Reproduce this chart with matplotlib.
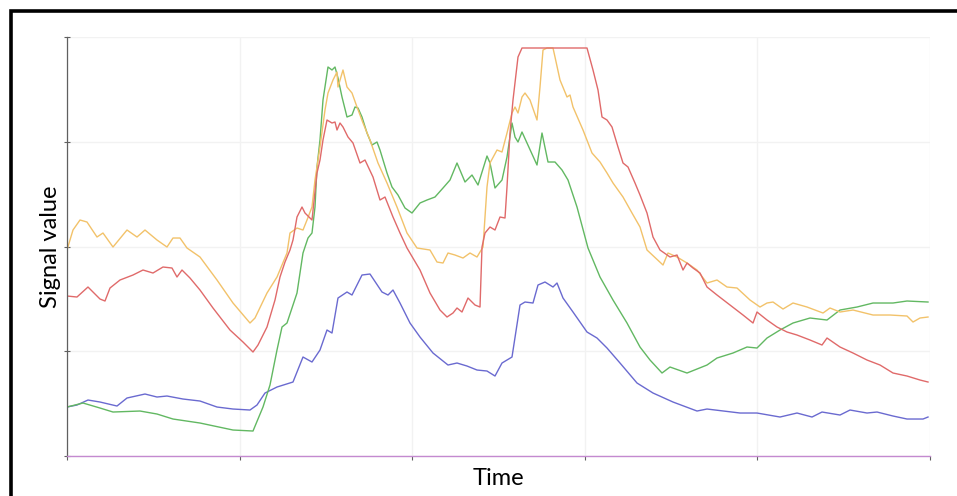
import numpy as np
import matplotlib

matplotlib.use("Agg")
import matplotlib.pyplot as plt
from matplotlib.patches import Rectangle

plt.rcParams["font.family"] = ["Lato", "DejaVu Sans"]

# arbitrary units (time 0..863, signal 0..419)
blue_t = [0, 5, 10, 21, 33, 50, 60, 78, 90, 100, 116, 133, 150, 166, 183, 190, 198, 210,
          226, 236, 245, 253, 260, 265, 271, 280, 285, 295, 303, 315, 321, 326, 333, 343,
          353, 366, 381, 390, 400, 410, 420, 428, 435, 445, 453, 458, 466, 471, 478, 486,
          490, 496, 506, 520, 530, 540, 553, 570, 586, 606, 630, 640, 673, 690, 713, 730,
          745, 755, 773, 783, 800, 810, 826, 840, 856, 861]
blue_v = [49, 50, 51, 56, 54, 50, 58, 62, 59, 60, 57, 55, 49, 47, 46, 51, 63, 69,
          74, 99, 94, 106, 126, 123, 158, 164, 161, 181, 182, 164, 161, 166, 153, 133,
          119, 103, 91, 93, 90, 86, 85, 80, 93, 99, 151, 154, 153, 171, 174, 169,
          173, 158, 144, 124, 118, 108, 93, 73, 63, 54, 45, 47, 43, 43, 39, 43,
          39, 44, 41, 46, 43, 44, 40, 37, 37, 39]

green_t = [0, 16, 33, 46, 73, 90, 106, 133, 166, 186, 196, 203, 210, 215, 220, 230, 236,
           241, 245, 248, 250, 253, 256, 261, 265, 268, 271, 275, 280, 285, 288, 291, 295,
           300, 305, 310, 313, 320, 325, 331, 338, 345, 353, 360, 368, 376, 383, 390, 398,
           405, 411, 420, 423, 428, 435, 440, 445, 448, 451, 455, 460, 470, 475, 481, 488,
           495, 501, 510, 521, 533, 546, 560, 573, 583, 595, 603, 620, 640, 650, 666, 680,
           690, 700, 713, 726, 743, 760, 773, 790, 806, 826, 840, 861]
green_v = [49, 53, 48, 44, 45, 42, 37, 33, 26, 25, 49, 71, 106, 129, 133, 163, 203,
           218, 223, 249, 289, 316, 356, 389, 386, 389, 378, 359, 339, 341, 349, 348, 339,
           323, 311, 314, 306, 283, 269, 261, 248, 243, 253, 256, 259, 268, 276, 293, 274,
           281, 271, 300, 293, 268, 276, 299, 333, 319, 314, 324, 313, 291, 323, 294, 294,
           286, 276, 249, 208, 179, 156, 133, 109, 96, 83, 89, 83, 91, 98, 103, 109,
           108, 118, 126, 133, 138, 136, 146, 149, 153, 153, 155, 154]

orange_t = [0, 6, 13, 20, 30, 36, 46, 60, 70, 78, 90, 100, 106, 113, 120, 133, 150, 166,
            183, 188, 200, 210, 220, 223, 230, 236, 240, 245, 248, 253, 258, 261, 266, 270,
            271, 276, 280, 285, 290, 296, 303, 311, 320, 330, 340, 350, 363, 370, 376, 381,
            388, 396, 403, 410, 416, 420, 423, 430, 435, 440, 445, 448, 451, 455, 458, 463,
            470, 473, 476, 480, 486, 488, 493, 500, 503, 506, 516, 525, 533, 540, 546, 556,
            565, 573, 580, 596, 601, 610, 620, 630, 640, 650, 660, 670, 683, 693, 700, 706,
            716, 726, 740, 756, 763, 773, 786, 806, 823, 840, 846, 853, 861]
orange_v = [206, 226, 236, 234, 219, 223, 209, 226, 219, 226, 216, 209, 218, 218, 208, 199, 176, 153,
            133, 138, 163, 179, 203, 223, 228, 226, 236, 249, 276, 309, 346, 363, 376, 384,
            369, 386, 369, 363, 349, 333, 316, 293, 273, 249, 223, 208, 206, 194, 193, 203,
            201, 198, 203, 199, 209, 269, 293, 306, 304, 323, 343, 349, 343, 359, 363, 356,
            336, 369, 406, 408, 408, 399, 376, 359, 361, 349, 326, 303, 294, 283, 273, 259,
            243, 229, 206, 191, 203, 199, 193, 186, 173, 176, 169, 168, 156, 149, 153, 154,
            147, 153, 149, 143, 148, 144, 146, 141, 141, 140, 134, 138, 139]

red_t = [0, 10, 21, 33, 38, 43, 53, 66, 76, 86, 96, 105, 110, 115, 123, 133, 146, 163,
         176, 186, 191, 200, 208, 213, 218, 223, 226, 230, 235, 238, 245, 250, 253, 256,
         260, 265, 268, 270, 273, 276, 281, 286, 293, 298, 306, 313, 318, 326, 333, 340,
         353, 363, 373, 380, 386, 390, 395, 401, 408, 413, 415, 418, 423, 428, 433, 438,
         440, 443, 446, 451, 455, 520, 526, 531, 535, 540, 545, 551, 556, 561, 568, 573,
         580, 586, 593, 603, 610, 616, 620, 626, 633, 640, 650, 663, 676, 686, 690, 700,
         710, 720, 730, 743, 755, 760, 773, 786, 800, 813, 826, 840, 853, 861]
red_v = [160, 159, 169, 157, 155, 168, 176, 181, 186, 183, 189, 188, 179, 186, 178, 166, 148, 126,
         114, 104, 111, 129, 156, 179, 194, 206, 216, 239, 249, 243, 236, 283, 296, 316,
         336, 333, 334, 326, 333, 329, 319, 313, 293, 296, 279, 256, 259, 239, 223, 208,
         186, 163, 146, 139, 143, 148, 144, 158, 151, 149, 209, 223, 229, 226, 239, 238,
         269, 323, 356, 399, 408, 408, 386, 366, 339, 336, 329, 309, 293, 289, 273, 261,
         243, 219, 206, 199, 201, 186, 193, 188, 183, 169, 161, 151, 141, 133, 144, 136,
         129, 124, 121, 116, 111, 118, 109, 103, 96, 91, 83, 80, 76, 74]

fig = plt.figure(figsize=(9.57, 4.96), dpi=100)
ax = fig.add_axes([0.0700, 0.0806, 0.9018, 0.8448])

ax.plot(blue_t, blue_v, color="#6a6ad0", linewidth=1.0)
ax.plot(green_t, green_v, color="#62b862", linewidth=1.0)
ax.plot(orange_t, orange_v, color="#f2c26a", linewidth=1.0)
ax.plot(red_t, red_v, color="#e06a6a", linewidth=1.0)

ax.set_xlim(0, 863)
ax.set_ylim(0, 419)
ax.set_xticks(np.linspace(0, 863, 6))
ax.set_yticks(np.linspace(0, 419, 5))
ax.set_xticklabels([])
ax.set_yticklabels([])
ax.grid(True, color="#f2f2f2", linewidth=1.0)
ax.set_axisbelow(True)

for side in ["top", "right"]:
    ax.spines[side].set_visible(False)
ax.spines["left"].set_color("#606060")
ax.spines["left"].set_linewidth(0.9)
ax.spines["bottom"].set_color("#c48ad0")
ax.spines["bottom"].set_linewidth(1.0)
ax.tick_params(axis="y", direction="inout", length=5, color="#606060", width=0.8)
ax.tick_params(axis="x", direction="out", length=3, color="#606060", width=0.8)

ax.set_xlabel("Time", fontsize=17, labelpad=2)
ax.set_ylabel("Signal value", fontsize=17, labelpad=-2)

border = Rectangle((11 / 957, -0.2), 1.2, 1 - 11 / 496 + 0.2, transform=fig.transFigure,
                   fill=False, edgecolor="black", linewidth=2.6, clip_on=False)
fig.add_artist(border)

fig.savefig("out.png", dpi=100)
